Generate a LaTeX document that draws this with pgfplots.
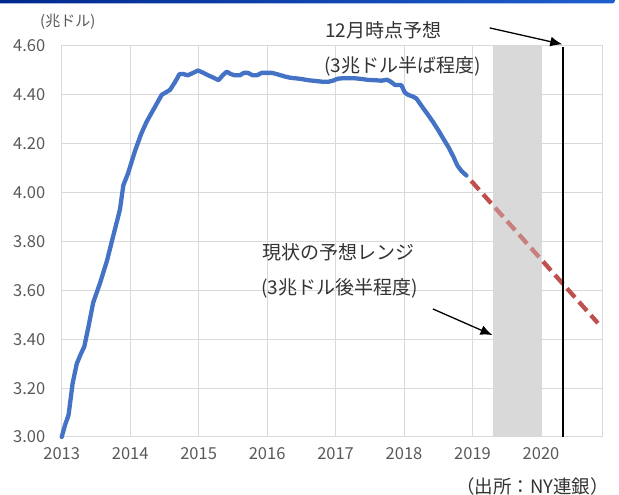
\documentclass[border=0pt]{standalone}
\usepackage{pgfplots}
\pgfplotsset{compat=1.18}
\usepackage{fontspec}
\setmainfont{Noto Sans CJK JP}
\usetikzlibrary{arrows.meta}

\definecolor{gridgray}{RGB}{217,217,217}
\definecolor{ticktext}{RGB}{89,89,89}
\definecolor{fedblue}{RGB}{68,114,196}
\definecolor{fcstred}{RGB}{192,80,77}
\definecolor{bandgray}{RGB}{217,217,217}
\definecolor{bardark}{RGB}{0,40,140}
\definecolor{barlight}{RGB}{30,95,205}

% Fed balance sheet (trillion USD)
\pgfplotstableread{
x y
2013.00 3.00
2013.05 3.05
2013.10 3.09
2013.16 3.22
2013.22 3.30
2013.28 3.34
2013.33 3.37
2013.39 3.45
2013.46 3.55
2013.56 3.63
2013.66 3.72
2013.75 3.82
2013.85 3.93
2013.90 4.03
2013.97 4.08
2014.07 4.17
2014.16 4.24
2014.24 4.29
2014.30 4.32
2014.36 4.35
2014.46 4.40
2014.52 4.41
2014.58 4.42
2014.65 4.45
2014.72 4.485
2014.78 4.485
2014.84 4.48
2014.92 4.49
2014.99 4.50
2015.07 4.49
2015.14 4.48
2015.22 4.47
2015.29 4.46
2015.35 4.48
2015.41 4.495
2015.47 4.485
2015.53 4.48
2015.60 4.48
2015.66 4.49
2015.72 4.49
2015.79 4.48
2015.85 4.48
2015.92 4.49
2016.00 4.49
2016.07 4.49
2016.14 4.485
2016.20 4.48
2016.26 4.475
2016.34 4.47
2016.41 4.468
2016.50 4.465
2016.60 4.46
2016.70 4.457
2016.80 4.454
2016.90 4.454
2016.96 4.458
2017.03 4.466
2017.10 4.468
2017.20 4.468
2017.28 4.468
2017.38 4.465
2017.48 4.461
2017.58 4.46
2017.67 4.458
2017.75 4.462
2017.80 4.455
2017.87 4.44
2017.96 4.44
2018.01 4.41
2018.06 4.40
2018.13 4.393
2018.18 4.385
2018.23 4.365
2018.28 4.345
2018.35 4.318
2018.42 4.29
2018.50 4.255
2018.57 4.222
2018.65 4.185
2018.72 4.147
2018.78 4.11
2018.84 4.088
2018.91 4.07
}\balance

% projected path
\pgfplotstableread{
x y
2018.98 4.048
2020.83 3.466
}\projection

% current expected range
\pgfplotstableread{
x y
2019.30 3.00
2020.00 3.00
2020.00 4.60
2019.30 4.60
}\rangeband

\begin{document}
\begin{tikzpicture}[x=1pt,y=1pt]
\useasboundingbox (0,0) rectangle (619,495);
\shade[left color=bardark,right color=barlight,rounded corners=3pt] (-10,491.5) rectangle (615,505);

\begin{axis}[
  at={(61.7pt,58pt)}, anchor=south west,
  scale only axis, width=541pt, height=391pt,
  xmin=2013, xmax=2020.9, ymin=3, ymax=4.6,
  xtick={2013,2014,...,2020},
  ytick={3,3.2,3.4,3.6,3.8,4.0,4.2,4.4,4.6},
  grid=major,
  major grid style={draw=gridgray, line width=1pt},
  axis line style={draw=gridgray, line width=1pt},
  major tick length=0pt,
  clip=false,
  tick label style={font=\fontsize{16.5}{19}\selectfont, text=ticktext},
  /pgf/number format/assume math mode=true,
  yticklabel style={xshift=-13pt, /pgf/number format/fixed, /pgf/number format/fixed zerofill, /pgf/number format/precision=2},
  xticklabel style={yshift=-7pt, /pgf/number format/1000 sep={}},
]
% range band underneath, then a light veil over the projection inside it
\addplot[draw=none, fill=bandgray] table[x=x,y=y] {\rangeband} -- cycle;
\addplot[fedblue, line width=4.3pt, line join=round, line cap=round] table[x=x,y=y] {\balance};
\addplot[fcstred, line width=4.3pt, dash pattern=on 12pt off 6pt] table[x=x,y=y] {\projection};
\addplot[draw=none, fill=bandgray, fill opacity=0.35] table[x=x,y=y] {\rangeband} -- cycle;
\addplot[black, line width=1.5pt] coordinates {(2020.32,3.0) (2020.32,4.595)};
\draw[black, line width=1.3pt, -{Latex[length=12pt,width=10pt]}] (axis cs:2019.25,4.674) -- (axis cs:2020.31,4.607);
\draw[black, line width=1.3pt, -{Latex[length=12pt,width=10pt]}] (axis cs:2018.42,3.524) -- (axis cs:2019.29,3.417);
\end{axis}

\begin{scope}[every node/.style={inner sep=0pt, text=black!80}]
\node[anchor=west, font=\fontsize{15}{17}\selectfont, text=ticktext] at (40,473) {(兆ドル)};
\node[anchor=west, font=\fontsize{19}{22}\selectfont] at (325,465) {12月時点予想};
\node[anchor=west, font=\fontsize{19}{22}\selectfont] at (324,429) {(3兆ドル半ば程度)};
\node[anchor=west, font=\fontsize{19}{22}\selectfont] at (262,243) {現状の予想レンジ};
\node[anchor=west, font=\fontsize{19}{22}\selectfont] at (261,207) {(3兆ドル後半程度)};
\node[anchor=east, font=\fontsize{18.5}{21}\selectfont] at (609,9) {（出所：NY連銀）};
\end{scope}
\end{tikzpicture}
\end{document}
